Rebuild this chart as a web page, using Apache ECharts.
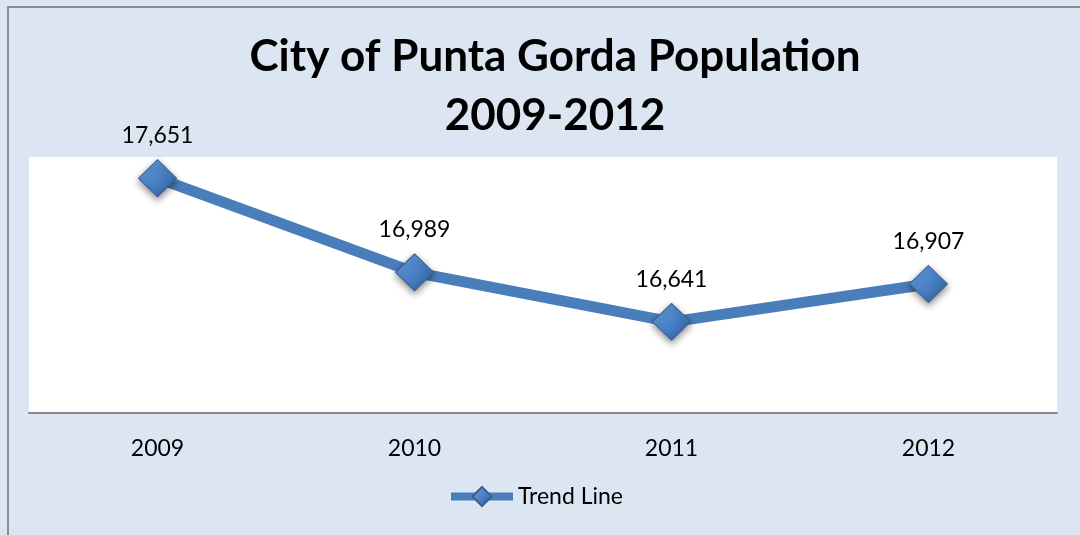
<!DOCTYPE html>
<html>
<head>
<meta charset="utf-8">
<script src="https://cdn.jsdelivr.net/npm/echarts@6/dist/echarts.min.js"></script>
<style>
  html, body { margin: 0; padding: 0; background: #dce6f2; }
  #chart { width: 1080px; height: 535px; }
</style>
</head>
<body>
<div id="chart"></div>
<script>
// Population of the City of Punta Gorda by year
const years = ['2009', '2010', '2011', '2012'];
const population = [17651, 16989, 16641, 16907];
const seriesName = 'Trend Line';
const titleLines = ['City of Punta Gorda Population', '2009-2012'];

const FONT = 'Lato, "Open Sans", sans-serif';
const blue = '#4a7ebb';

const diamondFill = new echarts.graphic.LinearGradient(0, 0, 1, 1, [
  { offset: 0, color: '#6ea3e0' },
  { offset: 0.5, color: '#4a82c8' },
  { offset: 1, color: '#2c5d9c' }
]);

const chart = echarts.init(document.getElementById('chart'), null, { renderer: 'canvas' });

chart.setOption({
  backgroundColor: '#dce6f2',
  animation: false,
  graphic: [
    {
      type: 'polyline',
      shape: { points: [[8, 540], [8, 7], [1090, 7]] },
      style: { stroke: '#8c8c8c', lineWidth: 2, fill: null },
      z: 0
    }
  ],
  title: {
    text: titleLines.join('\n'),
    left: 550,
    top: 22,
    textAlign: 'center',
    textStyle: {
      fontFamily: FONT,
      fontWeight: 'bold',
      fontSize: 44,
      lineHeight: 59,
      color: '#000'
    }
  },
  grid: {
    left: 29,
    right: 23,
    top: 157,
    bottom: 122,
    show: true,
    backgroundColor: '#ffffff',
    borderWidth: 0
  },
  xAxis: {
    type: 'category',
    data: years,
    boundaryGap: true,
    axisLine: { show: true, lineStyle: { color: '#8a8a8a', width: 2 } },
    axisTick: { show: false },
    axisLabel: {
      fontFamily: FONT,
      fontSize: 23,
      color: '#000',
      margin: 24
    },
    splitLine: { show: false }
  },
  yAxis: {
    type: 'value',
    min: 16000,
    max: 17800,
    interval: 200,
    show: false,
    splitLine: { show: false }
  },
  legend: {
    data: [seriesName],
    left: 442,
    top: 480,
    itemWidth: 62,
    itemHeight: 24,
    itemGap: 10,
    lineStyle: { width: 8 },
    textStyle: { fontFamily: FONT, fontSize: 23, color: '#000' }
  },
  series: [
    {
      name: seriesName,
      type: 'line',
      data: population,
      symbol: 'diamond',
      symbolSize: [38, 37],
      lineStyle: { color: blue, width: 11 },
      itemStyle: {
        color: diamondFill,
        borderColor: '#3b5f8e',
        borderWidth: 1,
        shadowColor: 'rgba(0,0,0,0.45)',
        shadowBlur: 7,
        shadowOffsetY: 3
      },
      label: {
        show: true,
        position: 'top',
        distance: 12,
        fontFamily: FONT,
        fontSize: 23,
        color: '#000',
        formatter: (p) => p.value.toLocaleString('en-US')
      },
      z: 3
    }
  ]
});
</script>
</body>
</html>
